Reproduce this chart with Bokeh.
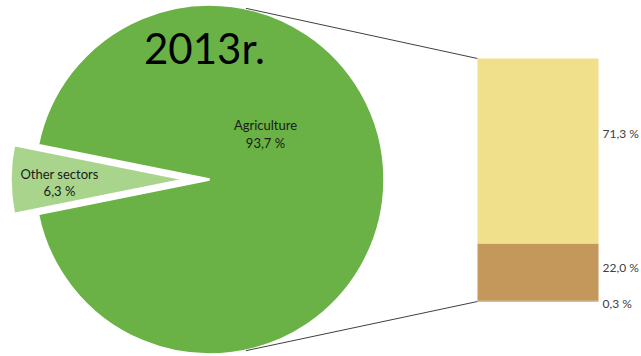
import math
from bokeh.plotting import figure
from bokeh.models import Range1d
from bokeh.core.properties import value
from bokeh.embed import file_html
from bokeh.resources import INLINE

# ---- data ----
title = "2013r."
pie_labels = ["Agriculture", "Other sectors"]
pie_values = [93.7, 6.3]
bar_labels = ["0,3 %", "22,0 %", "71,3 %"]          # bottom -> top
bar_values = [0.3, 22.0, 71.3]

# ---- layout / style ----
W, H = 641, 356
def Y(py):
    return H - py

cx, cy, r = 209, Y(179), 175
explode = 24
pie_colors = ["#6AB245", "#A8D48C"]
bar_colors = ["#A67A4C", "#C4975A", "#F0E08C"]
bar_x0, bar_x1 = 477, 598
bar_bottom, bar_top = Y(301), Y(58)
font = value("Lato")

p = figure(width=W, height=H, x_range=Range1d(0, W), y_range=Range1d(0, H),
           output_backend="svg", toolbar_location=None, min_border=0)
p.axis.visible = False
p.grid.visible = False
p.outline_line_color = None
p.background_fill_color = "white"

# pie: other sectors centred on the left (180 deg)
total = sum(pie_values)
half = math.pi * pie_values[1] / total
other_start, other_end = math.pi - half, math.pi + half
# agriculture
p.wedge(x=cx, y=cy, radius=r, start_angle=other_end, end_angle=other_start,
        fill_color=pie_colors[0], line_color="white", line_width=2.5)
# other sectors exploded left
p.wedge(x=cx - explode, y=cy, radius=r, start_angle=other_start, end_angle=other_end,
        fill_color=pie_colors[1], line_color="white", line_width=2.5)

# connector lines
ang = math.radians(78)
p.line([cx + r * math.cos(ang), bar_x0], [cy + r * math.sin(ang), bar_top],
       line_color="#404040", line_width=1)
p.line([cx + r * math.cos(-ang), bar_x0], [cy + r * math.sin(-ang), bar_bottom],
       line_color="#404040", line_width=1)

# stacked bar
scale = (bar_top - bar_bottom) / sum(bar_values)
bottoms, tops = [], []
acc = bar_bottom
for v in bar_values:
    bottoms.append(acc)
    acc += v * scale
    tops.append(acc)
p.quad(left=bar_x0, right=bar_x1, bottom=bottoms, top=tops,
       fill_color=bar_colors, line_color=None)

# bar labels
label_dy = [-2, 5, 18]
ly = [(b + t) / 2 + d for b, t, d in zip(bottoms, tops, label_dy)]
p.text(x=[602] * 3, y=ly, text=bar_labels, text_font=font, text_font_size="12px",
       text_color="#404040", text_baseline="middle", text_align="left")

def pct(v):
    return f"{v:.1f}".replace(".", ",") + " %"

# pie labels
p.text(x=[265, 265], y=[Y(124), Y(142)], text=[pie_labels[0], pct(pie_values[0])],
       text_font=font, text_font_size="13px", text_color="#1a1a1a",
       text_baseline="middle", text_align="center")
p.text(x=[59, 59], y=[Y(173), Y(190)], text=[pie_labels[1], pct(pie_values[1])],
       text_font=font, text_font_size="13px", text_color="#1a1a1a",
       text_baseline="middle", text_align="center")

# title
p.text(x=[204], y=[Y(47)], text=[title], text_font=font, text_font_size="42px",
       text_color="black", text_baseline="middle", text_align="center")

open("out.html", "w").write(file_html(p, INLINE))
